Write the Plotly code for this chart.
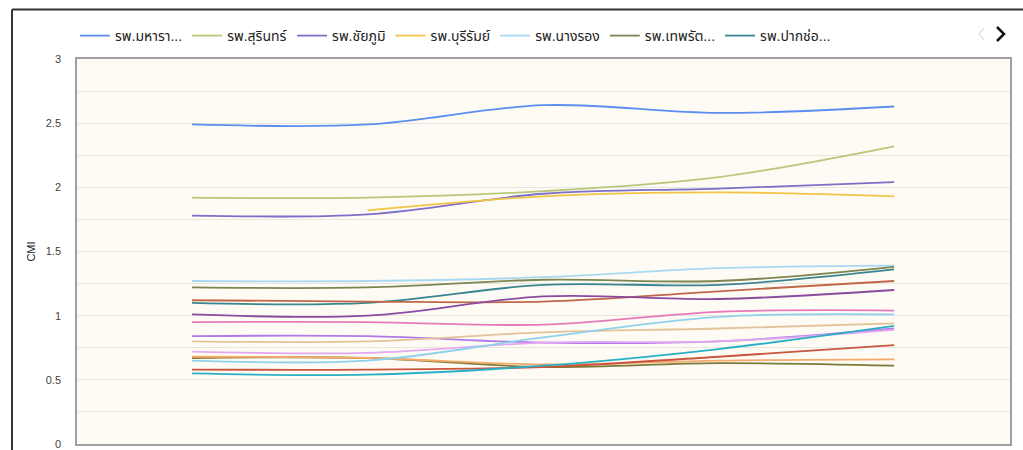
import plotly.graph_objects as go

# ---- data ----
periods = [0, 1, 2, 3, 4]
legend_names = [
    "รพ.มหารา...", "รพ.สุรินทร์", "รพ.ชัยภูมิ", "รพ.บุรีรัมย์", "รพ.นางรอง",
    "รพ.เทพรัต...", "รพ.ปากช่อ...",
    "รพ.ปักธงชัย", "รพ.ภูเขียว", "รพ.พิมาย", "รพ.ประโคนชัย", "รพ.ศีขรภูมิ",
    "รพ.บัวใหญ่", "รพ.สีคิ้ว", "รพ.ปราสาท", "รพ.ด่านขุนทด", "รพ.โชคชัย", "รพ.สังขะ",
]
s01 = [2.49, 2.49, 2.64, 2.58, 2.63]
s02 = [1.92, 1.92, 1.97, 2.08, 2.32]
s03 = [1.78, 1.79, 1.95, 1.99, 2.04]
s04 = [None, 1.82, 1.93, 1.96, 1.93]
s05 = [1.27, 1.27, 1.30, 1.37, 1.39]
s06 = [1.22, 1.22, 1.28, 1.27, 1.38]
s07 = [1.10, 1.10, 1.24, 1.24, 1.36]
s08 = [1.12, 1.11, 1.11, 1.19, 1.27]
s09 = [1.01, 1.00, 1.15, 1.13, 1.20]
s10 = [0.95, 0.95, 0.93, 1.03, 1.04]
s11 = [0.84, 0.84, 0.79, 0.80, 0.90]
s12 = [0.80, 0.80, 0.87, 0.90, 0.94]
s13 = [0.72, 0.71, 0.79, 0.80, 0.89]
s14 = [0.67, 0.67, 0.60, 0.63, 0.61]
s15 = [0.68, 0.67, 0.62, 0.65, 0.66]
s16 = [0.65, 0.65, 0.83, 0.99, 1.01]
s17 = [0.58, 0.58, 0.60, 0.68, 0.77]
s18 = [0.55, 0.54, 0.61, 0.74, 0.92]
series = [s01, s02, s03, s04, s05, s06, s07, s08, s09, s10,
          s11, s12, s13, s14, s15, s16, s17, s18]
colors = [
    "#5c8ef2", "#b8c77a", "#7b6fc8", "#f2c545", "#a9d8f2", "#7d8552", "#3a8590",
    "#c0674a", "#8a4ba0", "#e67ab8", "#b07ae8", "#e3c49a", "#e3a8f2", "#7a7a3a",
    "#f5a96b", "#8fd0ec", "#c8553d", "#2ab0c5",
]
y_ticks = [0, 0.5, 1, 1.5, 2, 2.5, 3]

# ---- layout geometry (pixels) ----
W, H = 1023, 450
L, R, T, B = 77, 1010, 59, 444


def px(x):
    return (x - L) / (R - L)


def py(y):
    return (B - y) / (B - T)


fig = go.Figure()
for i, (name, vals, col) in enumerate(zip(legend_names, series, colors)):
    fig.add_trace(go.Scatter(
        x=periods, y=vals, name=name, mode="lines",
        line=dict(color=col, width=1.8, shape="spline", smoothing=1.0),
        showlegend=i < 7, connectgaps=False,
    ))

shapes = [
    # outer card frame
    dict(type="line", xref="paper", yref="paper", x0=px(12), x1=px(1030),
         y0=py(9.5), y1=py(9.5), line=dict(color="#333333", width=2)),
    dict(type="line", xref="paper", yref="paper", x0=px(12), x1=px(12),
         y0=py(9.5), y1=py(460), line=dict(color="#333333", width=2)),
    # legend pager chevrons
    dict(type="path", xref="paper", yref="paper",
         path=f"M {px(984)} {py(28)} L {px(979)} {py(34)} L {px(984)} {py(40)}",
         line=dict(color="#e2e2e2", width=1.3)),
    dict(type="path", xref="paper", yref="paper",
         path=f"M {px(997)} {py(27)} L {px(1004)} {py(34)} L {px(997)} {py(41)}",
         line=dict(color="#111111", width=2.5)),
]

fig.update_layout(
    width=W, height=H,
    margin=dict(l=L, r=W - R, t=T, b=H - B, pad=0, autoexpand=False),
    paper_bgcolor="#ffffff",
    plot_bgcolor="#fdfbf3",
    font=dict(family="Arial, 'Liberation Sans', 'Noto Sans Thai', sans-serif", color="#444444", size=11),
    showlegend=True,
    legend=dict(orientation="h", x=px(75), xanchor="left", y=py(36), yanchor="middle",
                font=dict(size=14, color="#222222"), itemwidth=30,
                bgcolor="rgba(0,0,0,0)", tracegroupgap=0),
    shapes=shapes,
    xaxis=dict(range=[-0.655, 4.66], showgrid=False, zeroline=False,
               showticklabels=False, ticks="", showline=True, mirror=True,
               linecolor="#a0a0a0", linewidth=1.5, fixedrange=True, automargin=False),
    yaxis=dict(range=[0, 3], tickvals=y_ticks, ticktext=[f"{v:g}" for v in y_ticks],
               showgrid=True, gridcolor="#e8e6de", gridwidth=1,
               minor=dict(dtick=0.25, showgrid=True, gridcolor="#e8e6de", gridwidth=1),
               zeroline=False, showline=True, mirror=True, automargin=False,
               linecolor="#a0a0a0", linewidth=1.5, ticks="", ticklabelstandoff=12,
               ticklabeloverflow="allow",
               tickfont=dict(size=11, color="#444444"),
               title=dict(text="CMI", font=dict(size=11, color="#222222"), standoff=8)),
)

fig.write_html("out.html", config={"displayModeBar": False},
               post_script="document.body.style.margin='0';")
